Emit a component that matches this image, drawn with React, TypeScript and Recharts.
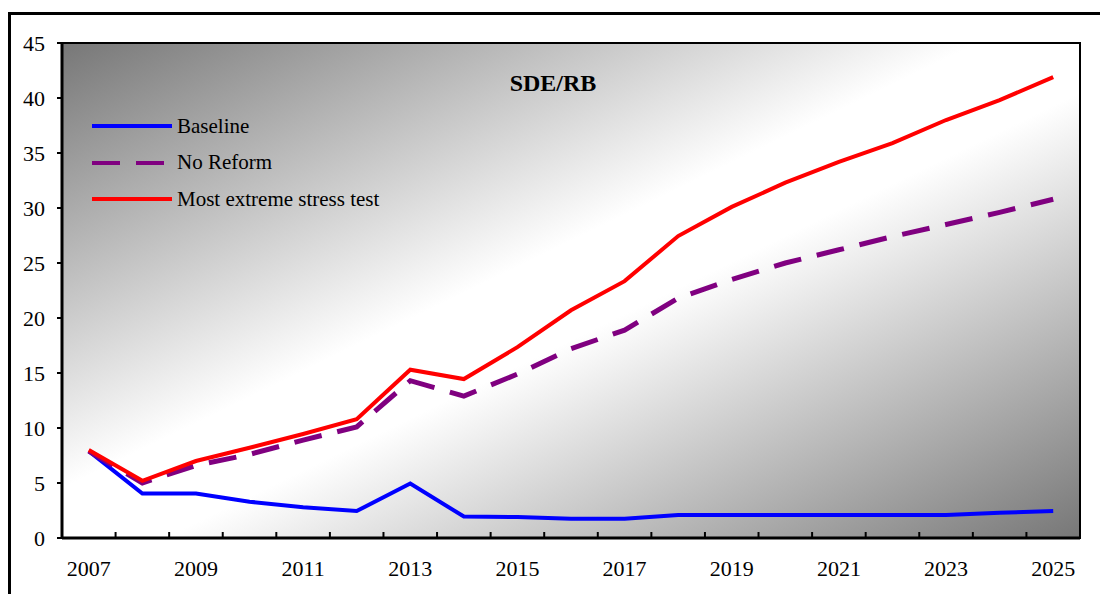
import React from "react";
import { LineChart, Line, XAxis, YAxis, Legend, ReferenceArea } from "recharts";

const FONT = '"Liberation Serif", "Times New Roman", serif';

const years = [
  2007, 2008, 2009, 2010, 2011, 2012, 2013, 2014, 2015, 2016, 2017, 2018, 2019,
  2020, 2021, 2022, 2023, 2024, 2025,
];
const baseline = [
  7.9, 4.05, 4.05, 3.3, 2.8, 2.45, 4.95, 1.95, 1.9, 1.75, 1.75, 2.1, 2.1, 2.1,
  2.1, 2.1, 2.1, 2.3, 2.45,
];
const noReform = [
  7.9, 5.0, 6.6, 7.6, 8.9, 10.1, 14.3, 12.9, 14.9, 17.2, 18.9, 21.8, 23.5, 25.0,
  26.2, 27.4, 28.5, 29.6, 30.8,
];
const extremeStress = [
  8.0, 5.2, 7.0, 8.2, 9.45, 10.8, 15.3, 14.45, 17.35, 20.7, 23.35, 27.45, 30.1,
  32.3, 34.2, 35.9, 38.0, 39.8, 41.9,
];
const yTicks = [0, 5, 10, 15, 20, 25, 30, 35, 40, 45];

const series = [
  { key: "baseline", name: "Baseline", color: "#0000ff", dash: undefined, width: 4 },
  { key: "noReform", name: "No Reform", color: "#800080", dash: "28 16", width: 5 },
  { key: "extremeStress", name: "Most extreme stress test", color: "#ff0000", dash: undefined, width: 4 },
];

const data = years.map((year, i) => ({
  year,
  baseline: baseline[i],
  noReform: noReform[i],
  extremeStress: extremeStress[i],
}));

// labels sit on the years, tick marks sit between them (Excel style)
const xTicks = years
  .flatMap((y, i) => (i < years.length - 1 ? [y, y + 0.5] : [y]));

const YearTick = (props: any) => {
  const { x, y, payload } = props;
  const v = payload.value;
  if (!Number.isInteger(v)) {
    return <line x1={x} x2={x} y1={y} y2={y - 6} stroke="#000" strokeWidth={2} />;
  }
  if ((v - years[0]) % 2 !== 0) return <g />;
  return (
    <text
      x={x}
      y={y + 30}
      textAnchor="middle"
      dominantBaseline="central"
      fontFamily={FONT}
      fontSize={22}
      fill="#000"
    >
      {v}
    </text>
  );
};

const renderLegend = () => (
  <div style={{ fontFamily: FONT, fontSize: 21, color: "#000" }}>
    {series.map((s) => (
      <div key={s.key} style={{ display: "flex", alignItems: "center", height: 36.5 }}>
        <svg width={84} height={10}>
          <line
            x1={2}
            x2={82}
            y1={5}
            y2={5}
            stroke={s.color}
            strokeWidth={4}
            strokeDasharray={s.dash}
          />
        </svg>
        <span style={{ marginLeft: 3, whiteSpace: "nowrap" }}>{s.name}</span>
      </div>
    ))}
  </div>
);

export default function App() {
  return (
    <div
      style={{
        position: "absolute",
        left: 0,
        top: 0,
        width: 1100,
        height: 594,
        overflow: "hidden",
        background: "#fff",
      }}
    >
      <div
        style={{
          position: "absolute",
          left: 8,
          top: 12,
          width: 1300,
          height: 800,
          border: "3px solid #000",
        }}
      />
      <div style={{ position: "absolute", left: 0, top: 0 }}>
        <LineChart
          width={1100}
          height={594}
          data={data}
          margin={{ top: 43, right: 20, bottom: 0, left: 12 }}
        >
          <defs>
            <linearGradient id="plotBg" x1="0" y1="0" x2="1" y2="1">
              <stop offset="0" stopColor="#777777" />
              <stop offset="0.45" stopColor="#ffffff" />
              <stop offset="0.55" stopColor="#ffffff" />
              <stop offset="1" stopColor="#777777" />
            </linearGradient>
          </defs>
          <ReferenceArea
            x1={2006.5}
            x2={2025.5}
            y1={0}
            y2={45}
            fill="url(#plotBg)"
            fillOpacity={1}
            stroke="#000"
            strokeWidth={2}
            ifOverflow="visible"
          />
          <XAxis
            dataKey="year"
            type="number"
            domain={[2006.5, 2025.5]}
            ticks={xTicks}
            interval={0}
            height={56}
            tickSize={0}
            tickMargin={0}
            tickLine={false}
            axisLine={{ stroke: "#000", strokeWidth: 3 }}
            tick={<YearTick />}
          />
          <YAxis
            domain={[0, 45]}
            ticks={yTicks}
            interval={0}
            width={50}
            tickSize={5}
            tickMargin={12}
            tickLine={{ stroke: "#000", strokeWidth: 2 }}
            axisLine={{ stroke: "#000", strokeWidth: 3 }}
            tick={{ fontFamily: FONT, fontSize: 22, fill: "#000" }}
          />
          <Legend
            layout="vertical"
            align="center"
            verticalAlign="middle"
            content={renderLegend}
            wrapperStyle={{ left: 90, top: 108, width: "auto", height: "auto" }}
          />
          {series.map((s) => (
            <Line
              key={s.key}
              type="linear"
              dataKey={s.key}
              name={s.name}
              stroke={s.color}
              strokeWidth={s.width}
              strokeDasharray={s.dash}
              dot={false}
              activeDot={false}
              isAnimationActive={false}
            />
          ))}
        </LineChart>
      </div>
      <div
        style={{
          position: "absolute",
          left: 453,
          top: 70,
          width: 200,
          textAlign: "center",
          fontFamily: FONT,
          fontWeight: "bold",
          fontSize: 24,
          color: "#000",
        }}
      >
        SDE/RB
      </div>
    </div>
  );
}
